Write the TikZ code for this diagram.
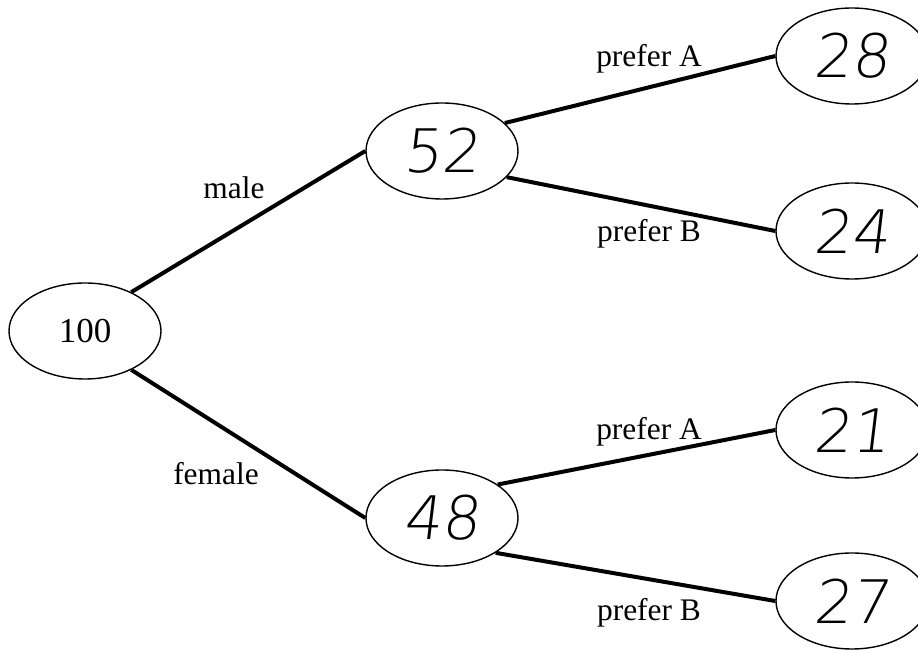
\documentclass[tikz,border=0pt]{standalone}
\usepackage{fontspec}
\setmainfont{Liberation Serif}
\newfontfamily\handfont[FakeSlant=0.12]{DejaVu Sans ExtraLight}
\usetikzlibrary{shapes.geometric}
\tikzset{
  oval/.style={ellipse, draw, line width=0.7pt, minimum width=76pt, minimum height=48pt, inner sep=0pt},
  hand/.style={font=\handfont\fontsize{30}{30}\selectfont},
  branch/.style={line width=2pt},
  lbl/.style={font=\fontsize{15.7}{16}\selectfont, anchor=base, inner sep=0pt}
}
\begin{document}
\begin{tikzpicture}[x=0.5pt,y=-0.5pt]
\clip (0,0) rectangle (918,652);
\fill[white] (0,0) rectangle (918,652);
% nodes
\node[oval, font=\fontsize{17.5}{18}\selectfont] (n100) at (85,331) {100};
\node[oval, hand] (n52) at (442,151) {52};
\node[oval, hand] (n48) at (442,518) {48};
\node[oval, hand] (n28) at (852,56) {28};
\node[oval, hand] (n24) at (852,231) {24};
\node[oval, hand] (n21) at (852,430) {21};
\node[oval, hand] (n27) at (852,601) {27};
% connectors
\draw[branch] (n100.40) -- (n52.west);
\draw[branch] (n100.-40) -- (n48.west);
\draw[branch] (n52.24) -- (n28.west);
\draw[branch] (n52.-22) -- (n24.west);
\draw[branch] (n48.31) -- (n21.west);
\draw[branch] (n48.-33) -- (n27.west);
% labels
\node[lbl] (lmale) at (234,199) {male};
\node[lbl] (lfemale) at (216,485) {female};
\node[lbl] (la1) at (649,67) {prefer A};
\node[lbl] (lb1) at (649,242) {prefer B};
\node[lbl] (la2) at (649,440) {prefer A};
\node[lbl] (lb2) at (649,621) {prefer B};
\end{tikzpicture}
\end{document}
